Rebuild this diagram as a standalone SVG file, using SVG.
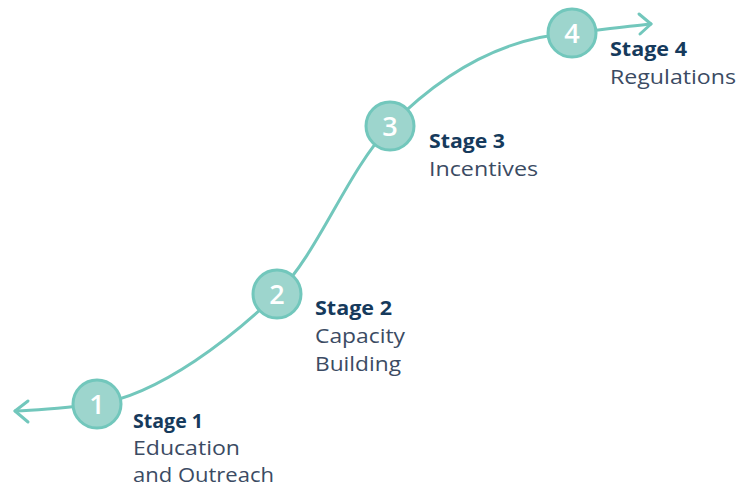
<svg xmlns="http://www.w3.org/2000/svg" width="738" height="488" viewBox="0 0 738 488">
  <style>
    .path { fill: none; stroke: #72c7bc; stroke-width: 3; stroke-linecap: round; stroke-linejoin: round; }
    .dot { fill: #9dd5cd; stroke: #72c7bc; stroke-width: 3; }
    .num { font-family: "Open Sans", "DejaVu Sans", sans-serif; font-size: 27px; font-weight: 600; fill: #ffffff; text-anchor: middle; }
    .title { font-family: "Open Sans", "Liberation Sans", sans-serif; font-size: 20px; font-weight: 700; fill: #163a5c; }
    .sub { font-family: "Open Sans", "Liberation Sans", sans-serif; font-size: 20px; fill: #3b4b63; }
  </style>
  <rect width="738" height="488" fill="#ffffff"/>
  <g id="connectors">
    <path class="path" d="M15,411 C45,410 70,407 97,404 C160,395 235,335 277,294 C320,250 345,175 390,126 C440,75 500,38 572,33 C600,30 630,26 651,24"/>
    <path class="path" d="M28,401 L15,411 L28,422"/>
    <path class="path" d="M639,14 L651,24 L640,34"/>
  </g>
  <g id="stage1">
    <circle class="dot" cx="97" cy="404" r="24"/>
    <text class="num" x="97" y="414">1</text>
    <text class="title" x="133" y="428" textLength="70" lengthAdjust="spacingAndGlyphs">Stage 1</text>
    <text class="sub" x="133" y="455" textLength="107" lengthAdjust="spacingAndGlyphs">Education</text>
    <text class="sub" x="133" y="482" textLength="141" lengthAdjust="spacingAndGlyphs">and Outreach</text>
  </g>
  <g id="stage2">
    <circle class="dot" cx="277" cy="294" r="24"/>
    <text class="num" x="277" y="304">2</text>
    <text class="title" x="315" y="315" textLength="77" lengthAdjust="spacingAndGlyphs">Stage 2</text>
    <text class="sub" x="315" y="343" textLength="90" lengthAdjust="spacingAndGlyphs">Capacity</text>
    <text class="sub" x="315" y="371" textLength="86" lengthAdjust="spacingAndGlyphs">Building</text>
  </g>
  <g id="stage3">
    <circle class="dot" cx="390" cy="126" r="24"/>
    <text class="num" x="390" y="136">3</text>
    <text class="title" x="429" y="148" textLength="76" lengthAdjust="spacingAndGlyphs">Stage 3</text>
    <text class="sub" x="429" y="176" textLength="109" lengthAdjust="spacingAndGlyphs">Incentives</text>
  </g>
  <g id="stage4">
    <circle class="dot" cx="572" cy="33" r="24"/>
    <text class="num" x="572" y="43">4</text>
    <text class="title" x="610" y="56" textLength="77" lengthAdjust="spacingAndGlyphs">Stage 4</text>
    <text class="sub" x="610" y="84" textLength="126" lengthAdjust="spacingAndGlyphs">Regulations</text>
  </g>
</svg>
